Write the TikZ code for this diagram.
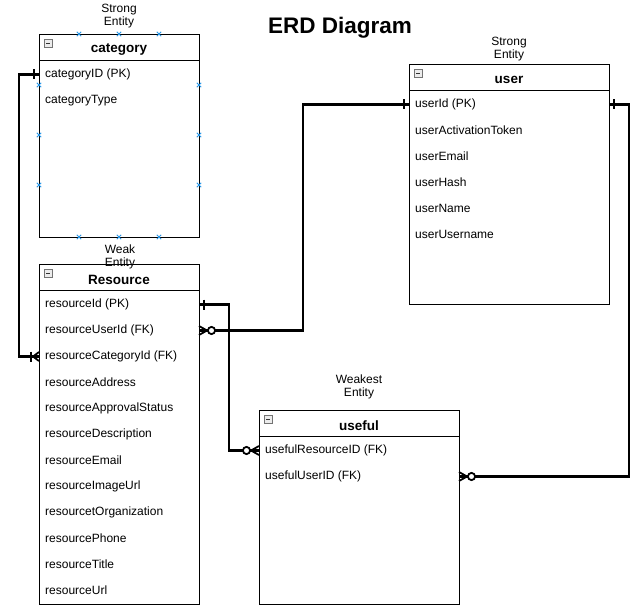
\documentclass[tikz,border=0pt]{standalone}
\usepackage{fontspec}
\setmainfont{Liberation Sans}
\newcommand\attrfont{\fontsize{12}{14}\selectfont}
\newcommand\labfont{\fontsize{12}{13}\selectfont}
\newcommand\headfont{\fontsize{13.5}{15}\selectfont\bfseries}
\newcommand\titfont{\fontsize{22.5}{25}\selectfont\bfseries}
\definecolor{selblue}{RGB}{40,150,230}
\tikzset{
  ent/.style={draw, line width=0.9pt, fill=white, anchor=north west, inner sep=0, outer sep=0},
  attr/.style={anchor=west, font=\attrfont, inner sep=0, yshift=-1.5pt},
  etitle/.style={font=\headfont, inner sep=0, yshift=-2pt},
  elabel/.style={font=\labfont, align=center, inner sep=0, yshift=-2pt},
  conn/.style={line width=2.4pt, line join=miter},
  endmk/.style={line width=1.8pt},
  barone/.pic={\draw[endmk] (5,-5) -- (5,5);},
  crowzero/.pic={\draw[endmk] (0,-4.5) -- (8,0) -- (0,4.5) (0,0) -- (8,0);
                 \draw[endmk, fill=white] (12.5,0) circle (3.6);},
  crowone/.pic={\draw[endmk] (0,-4.5) -- (6,0) -- (0,4.5) (0,0) -- (6,0);
                \draw[endmk] (8,-5) -- (8,5);},
  selx/.pic={\draw[selblue, line width=0.9pt] (-2.2,-2.2) -- (2.2,2.2) (-2.2,2.2) -- (2.2,-2.2);},
  collapse/.pic={\draw[gray!90!black, fill=gray!15, line width=0.6pt] (0,0) rectangle (8,8);
                 \draw[black!80, line width=0.8pt] (2,4) -- (6,4);}
}
\begin{document}
\begin{tikzpicture}[x=1pt, y=-1pt]
\useasboundingbox (0,0) rectangle (638,615);
\fill[white] (0,0) rectangle (638,615);

\node[font=\titfont, inner sep=0, yshift=-3pt] (title) at (340,25) {ERD Diagram};

% ---- category ----
\node[ent, minimum width=160pt, minimum height=203pt] (cat) at (39,34) {};
\draw[line width=0.9pt] ([yshift=-26pt]cat.north west) -- ([yshift=-26pt]cat.north east);
\pic at (44,39) {collapse};
\node[etitle] (catT) at (119,48) {category};
\node[attr] (catA1) at (45,73) {categoryID (PK)};
\node[attr] (catA2) at (45,99) {categoryType};
\node[elabel] (catL) at (119,14) {Strong\\Entity};
\foreach \p in {(79,34),(119,34),(159,34),(79,237),(119,237),(159,237),(39,85),(39,135),(39,185),(199,85),(199,135),(199,185)}
  \pic at \p {selx};

% ---- user ----
\node[ent, minimum width=200pt, minimum height=240pt] (usr) at (409,64) {};
\draw[line width=0.9pt] ([yshift=-26pt]usr.north west) -- ([yshift=-26pt]usr.north east);
\pic at (414,69) {collapse};
\node[etitle] (usrT) at (509,78) {user};
\node[attr] (usrA1) at (415,103) {userId (PK)};
\node[attr] (usrA2) at (415,129) {userActivationToken};
\node[attr] (usrA3) at (415,155) {userEmail};
\node[attr] (usrA4) at (415,181) {userHash};
\node[attr] (usrA5) at (415,207) {userName};
\node[attr] (usrA6) at (415,233) {userUsername};
\node[elabel] (usrL) at (509,47.5) {Strong\\Entity};

% ---- Resource ----
\node[elabel] (resL) at (120,254.5) {Weak\\Entity};
\node[ent, minimum width=160pt, minimum height=340pt, fill=none] (res) at (39,264) {};
\draw[line width=0.9pt] ([yshift=-26pt]res.north west) -- ([yshift=-26pt]res.north east);
\pic at (44,269) {collapse};
\node[etitle] (resT) at (119,278) {Resource};
\node[attr] (resA1) at (45,303) {resourceId (PK)};
\node[attr] (resA2) at (45,329) {resourceUserId (FK)};
\node[attr] (resA3) at (45,355) {resourceCategoryId (FK)};
\node[attr] (resA4) at (45,381) {resourceAddress};
\node[attr] (resA5) at (45,407) {resourceApprovalStatus};
\node[attr] (resA6) at (45,433) {resourceDescription};
\node[attr] (resA7) at (45,459) {resourceEmail};
\node[attr] (resA8) at (45,485) {resourceImageUrl};
\node[attr] (resA9) at (45,511) {resourcetOrganization};
\node[attr] (resA10) at (45,537) {resourcePhone};
\node[attr] (resA11) at (45,563) {resourceTitle};
\node[attr] (resA12) at (45,589) {resourceUrl};

% ---- useful ----
\node[ent, minimum width=200pt, minimum height=194pt] (use) at (259,410) {};
\draw[line width=0.9pt] ([yshift=-26pt]use.north west) -- ([yshift=-26pt]use.north east);
\pic at (264,415) {collapse};
\node[etitle] (useT) at (359,424) {useful};
\node[attr] (useA1) at (265,449) {usefulResourceID (FK)};
\node[attr] (useA2) at (265,475) {usefulUserID (FK)};
\node[elabel] (useL) at (359,384.5) {Weakest\\Entity};

% ---- connectors ----
\draw[conn] (catA1.west -| cat.west) -- ++(-20,0) |- (resA3.west -| res.west);
\draw[conn] (usrA1.west -| usr.west) -- ++(-106,0) |- (resA2.west -| res.east);
\draw[conn] (resA1.west -| res.east) -- ++(30,0) |- (useA1.west -| use.west);
\draw[conn] (usrA1.west -| usr.east) -- ++(20,0) |- (useA2.west -| use.east);

% ---- end markers ----
\pic[xscale=-1] at (catA1.west -| cat.west) {barone};
\pic[xscale=-1] at (resA3.west -| res.west) {crowone};
\pic[xscale=-1] at (usrA1.west -| usr.west) {barone};
\pic at (resA2.west -| res.east) {crowzero};
\pic at (resA1.west -| res.east) {barone};
\pic[xscale=-1] at (useA1.west -| use.west) {crowzero};
\pic at (usrA1.west -| usr.east) {barone};
\pic at (useA2.west -| use.east) {crowzero};
\end{tikzpicture}
\end{document}
